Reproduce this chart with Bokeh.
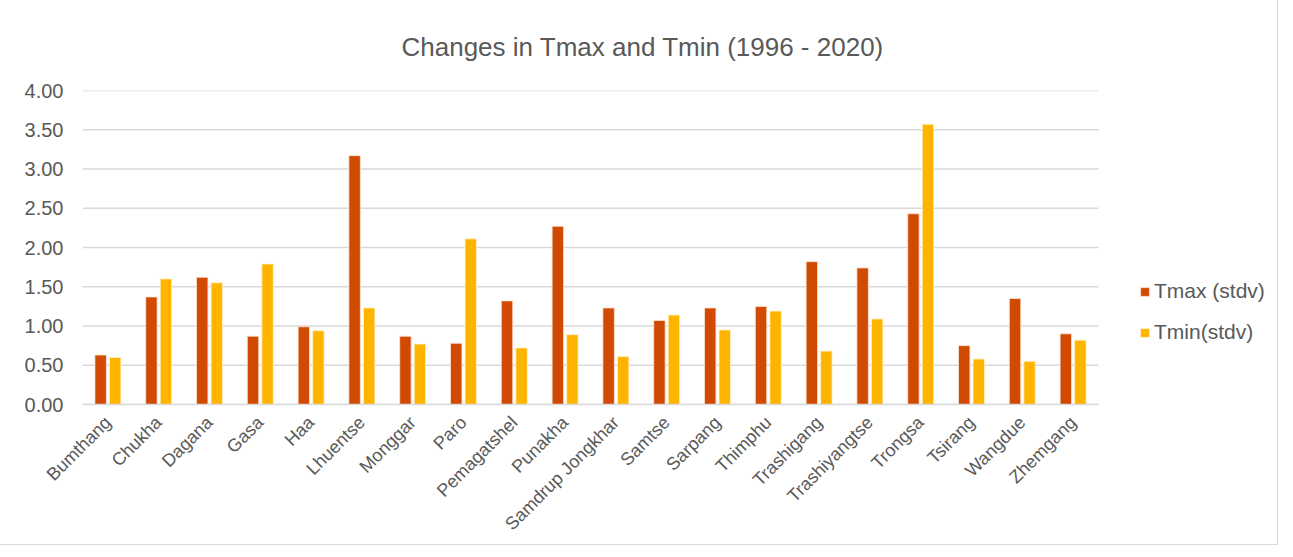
from bokeh.plotting import figure
from bokeh.models import ColumnDataSource, Legend, LegendItem, Range1d, NumeralTickFormatter, FixedTicker
from bokeh.transform import dodge
from bokeh.embed import file_html
from bokeh.resources import INLINE
from math import pi

districts = ["Bumthang", "Chukha", "Dagana", "Gasa", "Haa", "Lhuentse", "Monggar", "Paro",
             "Pemagatshel", "Punakha", "Samdrup Jongkhar", "Samtse", "Sarpang", "Thimphu",
             "Trashigang", "Trashiyangtse", "Trongsa", "Tsirang", "Wangdue", "Zhemgang"]
tmax = [0.63, 1.37, 1.62, 0.87, 0.99, 3.17, 0.87, 0.78, 1.32, 2.27,
        1.23, 1.07, 1.23, 1.25, 1.82, 1.74, 2.43, 0.75, 1.35, 0.90]
tmin = [0.60, 1.60, 1.55, 1.79, 0.94, 1.23, 0.77, 2.11, 0.72, 0.89,
        0.61, 1.14, 0.95, 1.19, 0.68, 1.09, 3.57, 0.58, 0.55, 0.82]
y_ticks = [0, 0.5, 1.0, 1.5, 2.0, 2.5, 3.0, 3.5, 4.0]
series_names = ["Tmax (stdv)", "Tmin(stdv)"]
title_text = "Changes in Tmax and Tmin (1996 - 2020)"

TXT = "#595959"
FONT = "Liberation Sans"
GRID = "#D9D9D9"

n = len(districts)
pos = list(range(n))
src = ColumnDataSource(dict(x=pos, d=districts, tmax=tmax, tmin=tmin))

FRAME_W = 1185
CAT_W = 1016 / n          # pixel width of one category in the plotting area
x_end = -0.5 + FRAME_W / CAT_W   # frame extends right to hold the legend

p = figure(x_range=Range1d(-0.5, x_end), y_range=Range1d(0, 4.0),
           frame_width=FRAME_W, frame_height=314,
           min_border_left=82, min_border_right=10, min_border_top=89, min_border_bottom=138,
           output_backend="svg", toolbar_location=None, title=title_text)

p.title.text_font = FONT
p.title.text_font_size = "26px"
p.title.text_font_style = "normal"
p.title.text_color = TXT
p.title.align = "left"
p.title.offset = 319
p.title.standoff = 58

# horizontal gridlines limited to the category area
p.segment(x0=[-0.5] * len(y_ticks), x1=[n - 0.5] * len(y_ticks), y0=y_ticks, y1=y_ticks,
          line_color=GRID, line_width=1.3, level="underlay")

r1 = p.vbar(x=dodge("x", -0.143), top="tmax", width=0.225, source=src,
            fill_color="#D04A02", line_color="#FBE3D6", line_width=0.8)
r2 = p.vbar(x=dodge("x", 0.143), top="tmin", width=0.225, source=src,
            fill_color="#FFB400", line_color="#FFF2CC", line_width=0.8)

p.outline_line_color = None
p.background_fill_color = "white"
p.border_fill_color = "white"
p.styles = {"outline": "1px solid #D9D9D9"}

p.xgrid.grid_line_color = None
p.ygrid.grid_line_color = None
p.yaxis.ticker = FixedTicker(ticks=y_ticks)
p.yaxis.formatter = NumeralTickFormatter(format="0.00")
p.yaxis.axis_line_color = None
p.yaxis.major_tick_line_color = None
p.yaxis.minor_tick_line_color = None
p.yaxis.major_tick_out = 0
p.yaxis.major_label_text_font = FONT
p.yaxis.major_label_text_font_size = "20px"
p.yaxis.major_label_text_color = TXT
p.yaxis.major_label_standoff = 19

p.xaxis.ticker = FixedTicker(ticks=pos)
p.xaxis.major_label_overrides = {i: name for i, name in zip(pos, districts)}
p.xaxis.bounds = (-0.5, n - 0.5)
p.xaxis.axis_line_color = GRID
p.xaxis.axis_line_width = 1.3
p.xaxis.major_tick_line_color = None
p.xaxis.minor_tick_line_color = None
p.xaxis.major_tick_out = 0
p.xaxis.major_label_orientation = pi / 4
p.xaxis.major_label_text_font = FONT
p.xaxis.major_label_text_font_size = "18px"
p.xaxis.major_label_text_color = TXT
p.xaxis.major_label_standoff = 15

legend = Legend(items=[LegendItem(label=series_names[0], renderers=[r1]),
                       LegendItem(label=series_names[1], renderers=[r2])],
                location=(1057, 60), orientation="vertical")
legend.border_line_color = None
legend.background_fill_alpha = 0
legend.padding = 0
legend.margin = 0
legend.spacing = 17
legend.glyph_width = 11
legend.glyph_height = 11
legend.label_height = 22
legend.label_standoff = 4
legend.label_text_font = FONT
legend.label_text_font_size = "21px"
legend.label_text_color = TXT
p.add_layout(legend, "center")

open("out.html", "w").write(file_html(p, INLINE))
